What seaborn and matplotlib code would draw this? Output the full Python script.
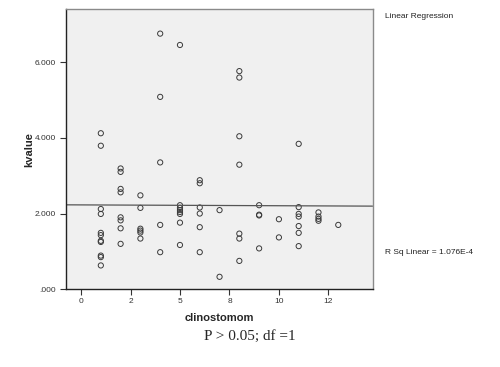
import numpy as np
import pandas as pd
import seaborn as sns
import matplotlib
matplotlib.use('Agg')
import matplotlib.pyplot as plt

# values, grouped by clinostomom value
clino_levels = [1, 2, 3, 4, 5, 6, 7, 8, 9, 10, 11, 12, 13]
kvalues = [
    [4.12, 3.79, 2.12, 1.99, 1.49, 1.43, 1.28, 1.25, 0.89, 0.85, 0.63],
    [3.19, 3.10, 2.65, 2.56, 1.90, 1.82, 1.61, 1.20],
    [2.48, 2.15, 1.60, 1.55, 1.50, 1.34],
    [6.75, 5.08, 3.35, 1.70, 0.98],
    [6.45, 2.22, 2.15, 2.09, 2.04, 1.99, 1.76, 1.17],
    [2.88, 2.80, 2.16, 2.00, 1.64, 0.98],
    [2.09, 0.33],
    [5.76, 5.59, 4.04, 3.29, 1.47, 1.34, 0.75],
    [2.22, 1.97, 1.95, 1.08],
    [1.85, 1.37],
    [3.84, 2.17, 1.99, 1.92, 1.67, 1.49, 1.14],
    [2.03, 1.92, 1.86, 1.81],
    [1.70],
]
xticks = [0, 2.5, 5, 7.5, 10, 12.5]
yticks = [0, 2, 4, 6]

rows = [(x, v) for x, vals in zip(clino_levels, kvalues) for v in vals]
df = pd.DataFrame(rows, columns=['clinostomom', 'kvalue'])

sns.set_style('white')
plt.rcParams['font.family'] = ['Liberation Sans', 'DejaVu Sans']

fig = plt.figure(figsize=(5, 3.67), dpi=100)
ax = fig.add_axes([0.132, 0.2117, 0.613, 0.7638])
ax.set_facecolor('#f0f0f0')
ax.set_xlim(-0.76, 14.73)
ax.set_ylim(0, 7.40)

sns.scatterplot(data=df, x='clinostomom', y='kvalue', ax=ax, marker='o',
                s=14, facecolor='none', edgecolor='#3a3a3a', linewidth=0.7)
sns.regplot(data=df, x='clinostomom', y='kvalue', ax=ax, scatter=False,
            ci=None, truncate=False, line_kws={'color': '#555555', 'lw': 0.9})
ax.set_xlim(-0.76, 14.73)
ax.set_ylim(0, 7.40)

ax.set_xticks(xticks)
ax.set_xticklabels([str(round(t)) for t in xticks])
ax.set_yticks(yticks)
ax.set_yticklabels(['.000' if t == 0 else f'{t:.3f}' for t in yticks])
ax.tick_params(axis='both', direction='out', length=4, width=0.8,
               labelsize=6, colors='#333333', bottom=True, left=True)
ax.tick_params(axis='x', pad=2)

for side in ['left', 'bottom']:
    ax.spines[side].set_color('#222222')
    ax.spines[side].set_linewidth(1.0)
for side in ['top', 'right']:
    ax.spines[side].set_color('#8a8a8a')
    ax.spines[side].set_linewidth(1.0)

ax.set_xlabel('clinostomom', fontsize=8, fontweight='bold', labelpad=6)
ax.set_ylabel('kvalue', fontsize=8, fontweight='bold', labelpad=0)

fig.text(0.77, 0.955, 'Linear Regression', fontsize=6, color='#222222',
         va='center')
fig.text(0.77, 0.313, 'R Sq Linear = 1.076E-4', fontsize=6, color='#222222',
         va='center')
fig.text(0.5, 0.082, 'P > 0.05; df =1', fontsize=11, ha='center',
         va='center', family=['Liberation Serif', 'DejaVu Serif'])

fig.savefig('out.png', dpi=100)
